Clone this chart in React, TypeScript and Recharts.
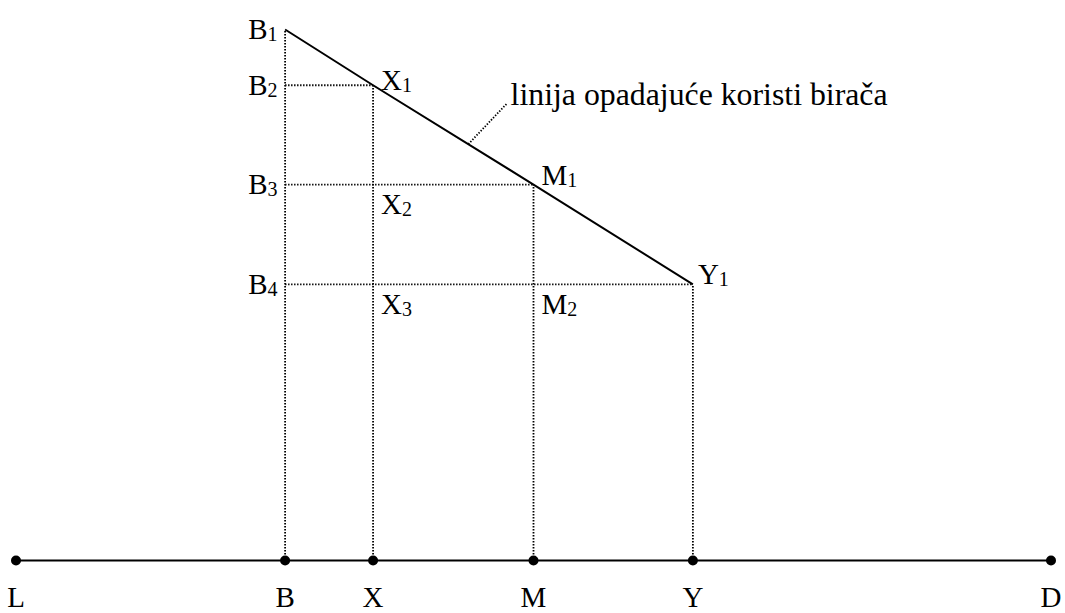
import React from "react";
import {
  ComposedChart,
  Line,
  Scatter,
  XAxis,
  YAxis,
  ReferenceLine,
} from "recharts";

// points on the left-right axis
const positions = ["L", "B", "X", "M", "Y", "D"];
const positionValues = [0, 26, 34.5, 50, 65.4, 100];

// voter utility line above B, X, M, Y
const utilityPoints = ["B", "X", "M", "Y"];
const utilityValues = [100, 89.5, 70.8, 52];
const utilityLabels = ["B1", "X1", "M1", "Y1"];
const levelLabels = ["B1", "B2", "B3", "B4"];

// projections under the line
const projectionLabels = ["X2", "X3", "M2"];
const projectionAt = [
  ["X", 70.8],
  ["X", 52],
  ["M", 52],
];

const annotationText = "linija opadajuće koristi birača";
const annotationFrom = { x: 43.7, y: 78.4 };
const annotationTo = { x: 47.4, y: 86 };

const FONT = "Liberation Serif";
const DOTTED = "1.4 1.6";

const xOf = (p: string) => positionValues[positions.indexOf(p)];
const utilOf = (p: string) => utilityValues[utilityPoints.indexOf(p)];

const chartData = positions.map((p, i) => ({
  name: p,
  x: positionValues[i],
  base: 0,
  utility: utilityPoints.includes(p) ? utilOf(p) : null,
}));

type Lbl = { x: number; y: number; text: string; kind: string };
const labelData: Lbl[] = [
  ...levelLabels.map((t, i) => ({ x: xOf("B"), y: utilityValues[i], text: t, kind: "level" })),
  ...utilityLabels.slice(1).map((t, i) => ({
    x: xOf(utilityPoints[i + 1]),
    y: utilityValues[i + 1],
    text: t,
    kind: t === "X1" ? "x1" : t === "Y1" ? "y1" : "util",
  })),
  ...projectionLabels.map((t, i) => ({
    x: xOf(projectionAt[i][0] as string),
    y: projectionAt[i][1] as number,
    text: t,
    kind: "proj",
  })),
  ...positions.map((p, i) => ({ x: positionValues[i], y: 0, text: p, kind: "axis" })),
];

const OFFSETS: Record<string, { dx: number; dy: number; anchor: string }> = {
  level: { dx: -7.5, dy: 9.5, anchor: "end" },
  x1: { dx: 8, dy: 5, anchor: "start" },
  util: { dx: 8, dy: 0, anchor: "start" },
  y1: { dx: 5, dy: 0, anchor: "start" },
  proj: { dx: 8, dy: 29.5, anchor: "start" },
  axis: { dx: 0, dy: 46.5, anchor: "middle" },
};

const LabelShape = (props: any) => {
  const { cx, cy, payload } = props;
  const o = OFFSETS[payload.kind];
  const main = payload.text.charAt(0);
  const sub = payload.text.slice(1);
  return (
    <text
      x={cx + o.dx}
      y={cy + o.dy}
      textAnchor={o.anchor}
      style={{ fontFamily: FONT, fontSize: 29 }}
      fill="#000"
    >
      {main}
      {sub && (
        <tspan style={{ fontSize: 20 }} dy={2}>
          {sub}
        </tspan>
      )}
    </text>
  );
};

const annotationData = [{ x: annotationTo.x, y: annotationTo.y }];
const AnnotationShape = (props: any) => (
  <text
    x={props.cx + 4}
    y={props.cy + 1}
    style={{ fontFamily: FONT, fontSize: 31.8 }}
    fill="#000"
  >
    {annotationText}
  </text>
);

export default function App() {
  return (
    <div style={{ position: "absolute", left: 0, top: 0, background: "#fff" }}>
      <ComposedChart
        width={1065}
        height={613}
        data={chartData}
        margin={{ top: 29.5, right: 14, bottom: 52.5, left: 16 }}
      >
        <XAxis type="number" dataKey="x" domain={[0, 100]} hide />
        <YAxis type="number" domain={[0, 100]} hide />

        {utilityPoints.map((p) => (
          <ReferenceLine
            key={`v-${p}`}
            segment={[
              { x: xOf(p), y: 0 },
              { x: xOf(p), y: utilOf(p) },
            ]}
            stroke="#000"
            strokeWidth={1.8}
            strokeDasharray={DOTTED}
          />
        ))}
        {utilityPoints.slice(1).map((p) => (
          <ReferenceLine
            key={`h-${p}`}
            segment={[
              { x: xOf("B"), y: utilOf(p) },
              { x: xOf(p), y: utilOf(p) },
            ]}
            stroke="#000"
            strokeWidth={1.8}
            strokeDasharray={DOTTED}
          />
        ))}
        <ReferenceLine
          segment={[annotationFrom, annotationTo]}
          stroke="#000"
          strokeWidth={1.8}
          strokeDasharray={DOTTED}
        />

        <Line
          dataKey="utility"
          stroke="#000"
          strokeWidth={2}
          dot={false}
          activeDot={false}
          isAnimationActive={false}
        />
        <Line
          dataKey="base"
          stroke="#000"
          strokeWidth={2}
          dot={{ r: 5, fill: "#000", stroke: "#000", strokeWidth: 0 }}
          activeDot={false}
          isAnimationActive={false}
        />

        <Scatter
          data={labelData}
          dataKey="y"
          shape={<LabelShape />}
          isAnimationActive={false}
        />
        <Scatter
          data={annotationData}
          dataKey="y"
          shape={<AnnotationShape />}
          isAnimationActive={false}
        />
      </ComposedChart>
    </div>
  );
}
